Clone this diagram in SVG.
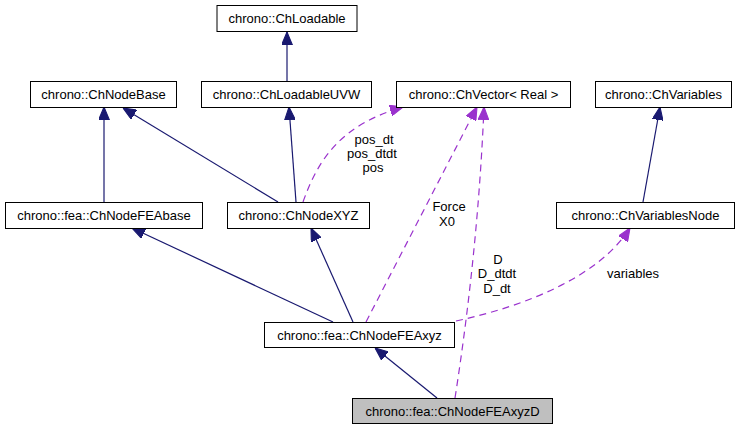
<svg xmlns="http://www.w3.org/2000/svg" width="741" height="429" viewBox="0 0 741 429">
<style>
.box rect{fill:#ffffff;stroke:#000000;stroke-width:1}
.box.cur rect{fill:#bfbfbf}
text{font-family:"Liberation Sans",Arial,sans-serif;font-size:13px;fill:#000000}
.box text{text-anchor:middle}
.lbl{text-anchor:middle}
.inh{fill:none;stroke:#191970;stroke-width:1.2}
.use{fill:none;stroke:#9a32cd;stroke-width:1.2;stroke-dasharray:7,5}
</style>
<defs>
<marker id="ab" viewBox="0 0 12 10" refX="12" refY="5" markerWidth="13" markerHeight="11" markerUnits="userSpaceOnUse" orient="auto">
<path d="M0,0 L12,5 L0,10 z" fill="#191970" stroke="#191970"/>
</marker>
<marker id="ap" viewBox="0 0 12 10" refX="12" refY="5" markerWidth="13" markerHeight="11" markerUnits="userSpaceOnUse" orient="auto">
<path d="M0,0 L12,5 L0,10 z" fill="#9a32cd" stroke="#9a32cd"/>
</marker>
</defs>
<rect width="741" height="429" fill="#ffffff"/>
<g id="edges">
<path class="inh" d="M287,81 L287,32" marker-end="url(#ab)"/>
<path class="inh" d="M104,202 L104,107" marker-end="url(#ab)"/>
<path class="inh" d="M278,202 L123,108" marker-end="url(#ab)"/>
<path class="inh" d="M296,202 L289,107" marker-end="url(#ab)"/>
<path class="use" d="M303,202 C318,160 340,125 403,107" marker-end="url(#ap)"/>
<path class="use" d="M366,322 L477,107" marker-end="url(#ap)"/>
<path class="use" d="M455,398 Q478,250 484,107" marker-end="url(#ap)"/>
<path class="use" d="M456,321 C530,305 600,275 630,228" marker-end="url(#ap)"/>
<path class="inh" d="M643,202 L660,107" marker-end="url(#ab)"/>
<path class="inh" d="M333,322 L132,228" marker-end="url(#ab)"/>
<path class="inh" d="M353,322 L311,228" marker-end="url(#ab)"/>
<path class="inh" d="M437,398 L375,348" marker-end="url(#ab)"/>
<text class="lbl" x="374" y="144">pos_dt</text>
<text class="lbl" x="372" y="158">pos_dtdt</text>
<text class="lbl" x="373" y="172">pos</text>
<text class="lbl" x="449" y="211">Force</text>
<text class="lbl" x="447" y="226">X0</text>
<text class="lbl" x="498" y="264">D</text>
<text class="lbl" x="497" y="278">D_dtdt</text>
<text class="lbl" x="497" y="293">D_dt</text>
<text class="lbl" x="633" y="278">variables</text>
</g>
<g id="ChLoadable" class="box"><rect x="217" y="5.5" width="140" height="26"/><text x="287" y="23">chrono::ChLoadable</text></g>
<g id="ChNodeBase" class="box"><rect x="30.5" y="81.5" width="146" height="26"/><text x="103.5" y="99">chrono::ChNodeBase</text></g>
<g id="ChLoadableUVW" class="box"><rect x="201.5" y="81.5" width="170" height="26"/><text x="286.5" y="99">chrono::ChLoadableUVW</text></g>
<g id="ChVector" class="box"><rect x="396.5" y="81.5" width="174" height="26"/><text x="483.5" y="99">chrono::ChVector&lt; Real &gt;</text></g>
<g id="ChVariables" class="box"><rect x="595.5" y="81.5" width="136" height="26"/><text x="663.5" y="99">chrono::ChVariables</text></g>
<g id="ChNodeFEAbase" class="box"><rect x="5.5" y="202.5" width="197" height="26"/><text x="104" y="220">chrono::fea::ChNodeFEAbase</text></g>
<g id="ChNodeXYZ" class="box"><rect x="227.5" y="202.5" width="142" height="26"/><text x="298.5" y="220">chrono::ChNodeXYZ</text></g>
<g id="ChVariablesNode" class="box"><rect x="556.5" y="202.5" width="178" height="26"/><text x="645.5" y="220">chrono::ChVariablesNode</text></g>
<g id="ChNodeFEAxyz" class="box"><rect x="264.5" y="322.5" width="190" height="25"/><text x="359.5" y="339.5">chrono::fea::ChNodeFEAxyz</text></g>
<g id="ChNodeFEAxyzD" class="box cur"><rect x="352.5" y="398.5" width="200" height="25"/><text x="452.5" y="415.5">chrono::fea::ChNodeFEAxyzD</text></g>
</svg>
